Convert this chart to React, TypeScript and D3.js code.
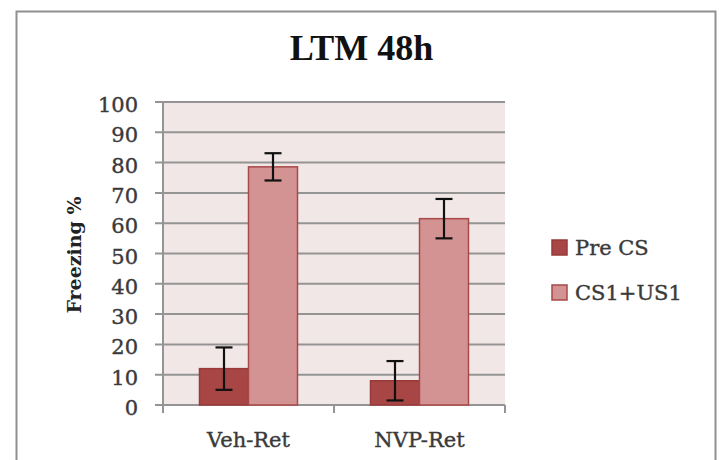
import React from "react";
import * as d3 from "d3";

const categories = ["Veh-Ret", "NVP-Ret"];
const seriesNames = ["Pre CS", "CS1+US1"];
const preCS = [12, 8];
const preCSErr = [7, 6.5];
const cs1us1 = [78.6, 61.5];
const cs1us1Err = [4.5, 6.5];
const yTicks = [0, 10, 20, 30, 40, 50, 60, 70, 80, 90, 100];

const colors = ["#A84646", "#D49393"];
const borders = ["#983A3A", "#A84848"];

export default function App() {
  const W = 720, H = 460;
  const left = 163, right = 505, top = 102, bottom = 405;
  const y = d3.scaleLinear().domain([0, 100]).range([bottom, top]);
  const x0 = d3.scaleBand<string>().domain(categories).range([left, right]).padding(0);
  const x1 = d3.scaleBand<string>().domain(seriesNames).range([0, x0.bandwidth()]).paddingInner(0).paddingOuter(0.745);
  const values = [preCS, cs1us1];
  const errs = [preCSErr, cs1us1Err];
  const serif = "'DejaVu Serif', serif";
  const textCol = "#3a3a3a";
  const tStroke = { stroke: textCol, strokeWidth: 0.4 };
  return (
    <svg width={W} height={H} style={{ position: "absolute", left: 0, top: 0, background: "#fff" }}>
      <rect x={0} y={0} width={W} height={H} fill="#fff" />
      <rect x={16.5} y={11.5} width={699} height={470} fill="none" stroke="#8f8f8f" strokeWidth={2} />
      <text x={361.5} y={60} textAnchor="middle" fontFamily="'Liberation Serif', serif" fontWeight="bold" fontSize={36} fill="#111">LTM 48h</text>
      <rect x={left} y={top} width={right - left} height={bottom - top} fill="#F2E7E7" />
      {yTicks.map((t) => (
        <g key={t}>
          <line x1={155} x2={right} y1={y(t)} y2={y(t)} stroke="#949494" strokeWidth={2} />
          <text x={138} y={y(t) + 10} textAnchor="end" fontFamily={serif} fontSize={21} fill={textCol} {...tStroke}>{t}</text>
        </g>
      ))}
      <line x1={left} x2={left} y1={top} y2={bottom + 8} stroke="#949494" strokeWidth={2} />
      {[left, left + x0.bandwidth(), right].map((xx, i) => (
        <line key={i} x1={xx} x2={xx} y1={bottom} y2={bottom + 8} stroke="#949494" strokeWidth={2} />
      ))}
      {categories.map((c, ci) => (
        <g key={c}>
          {seriesNames.map((s, si) => {
            const bx = (x0(c) as number) + (x1(s) as number);
            const v = values[si][ci];
            return (
              <rect key={s} x={bx} y={y(v)} width={x1.bandwidth()} height={bottom - y(v)} fill={colors[si]} stroke={borders[si]} strokeWidth={1.5} />
            );
          })}
          {seriesNames.map((s, si) => {
            const cx = (x0(c) as number) + (x1(s) as number) + x1.bandwidth() / 2;
            const v = values[si][ci];
            const e = errs[si][ci];
            return (
              <g key={s} stroke="#111" strokeWidth={2.2}>
                <line x1={cx} x2={cx} y1={y(v + e)} y2={y(v - e)} />
                <line x1={cx - 8.5} x2={cx + 8.5} y1={y(v + e)} y2={y(v + e)} />
                <line x1={cx - 8.5} x2={cx + 8.5} y1={y(v - e)} y2={y(v - e)} />
              </g>
            );
          })}
          <text x={(x0(c) as number) + x0.bandwidth() / 2} y={447} textAnchor="middle" fontFamily={serif} fontSize={21} fill={textCol} {...tStroke}>{c}</text>
        </g>
      ))}
      <text transform="translate(81,255) rotate(-90)" textAnchor="middle" fontFamily={serif} fontWeight="bold" fontSize={19} fill="#222">Freezing %</text>
      {seriesNames.map((s, si) => (
        <g key={s}>
          <rect x={552} y={240 + si * 45} width={15} height={15} fill={colors[si]} stroke={borders[si]} strokeWidth={1.5} />
          <text x={575} y={255 + si * 45} fontFamily={serif} fontSize={21} fill={textCol} {...tStroke}>{s}</text>
        </g>
      ))}
    </svg>
  );
}
